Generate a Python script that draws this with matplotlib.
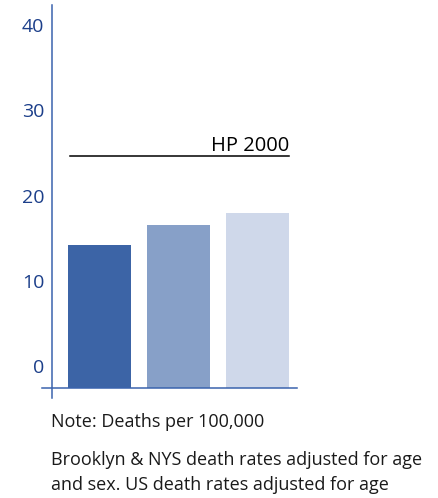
import matplotlib
matplotlib.use("Agg")
import matplotlib.pyplot as plt
import matplotlib.transforms as mtransforms

# data
groups = ["Brooklyn", "NYS", "US"]
rates = [14.2, 16.6, 17.9]
hp2000 = 24.6
yticks = [0, 10, 20, 30, 40]

bar_colors = ["#3c64a6", "#87a0c8", "#cfd8ea"]
axis_blue = "#3a63ad"
label_blue = "#1c3f8a"

plt.rcParams["font.family"] = ["Open Sans", "DejaVu Sans"]

W, H = 438, 498
fig = plt.figure(figsize=(W / 100, H / 100), dpi=100)

# axes box in pixels (left, top, right, bottom)
L, T, R, B = 42, 5, 297, 388
ax = fig.add_axes([L / W, 1 - B / H, (R - L) / W, (B - T) / H])

ymin, ymax = -2.58, 42.35
x = list(range(len(groups)))
# bars rise from the base line, which sits a little under the 0 label
ax.bar(x, [r - ymin for r in rates], bottom=ymin, width=0.8,
       color=bar_colors, zorder=2)
ax.set_xlim(-0.728, 2.5)
ax.set_ylim(ymin, ymax)

# HP 2000 target line
ax.plot([-0.375, 2.4], [hp2000, hp2000], color="black", lw=1.1)
ax.text(2.4, hp2000 + 0.6, "HP 2000", ha="right", va="baseline",
        fontsize=14.5, color="black")

for s in ["top", "right", "left"]:
    ax.spines[s].set_visible(False)
ax.spines["bottom"].set_color(axis_blue)
ax.spines["bottom"].set_linewidth(1.1)

# vertical axis line, running a little below the base line
tr = mtransforms.blended_transform_factory(ax.transData, ax.transAxes)
ax.plot([-0.601, -0.601], [-10 / (B - T), 1], color=axis_blue, lw=1.1,
        transform=tr, clip_on=False)

ax.set_xticks([])
ax.set_yticks(yticks)
ax.set_yticklabels([str(v) for v in yticks])
ax.tick_params(axis="y", length=0, pad=-1.5, labelsize=14, labelcolor=label_blue)

note_kw = dict(fontsize=13, va="center", ha="left", color="#1a1a1a")
fig.text(51 / W, 1 - 422 / H, "Note: Deaths per 100,000", **note_kw)
fig.text(51 / W, 1 - 460 / H, "Brooklyn & NYS death rates adjusted for age", **note_kw)
fig.text(51 / W, 1 - 485 / H, "and sex. US death rates adjusted for age", **note_kw)

fig.savefig("out.png", dpi=100)
